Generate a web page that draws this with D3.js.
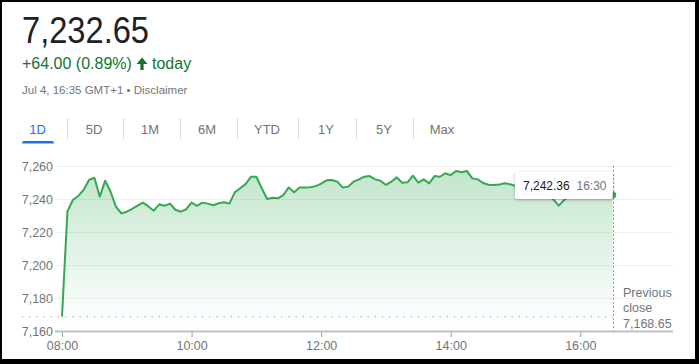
<!DOCTYPE html>
<html>
<head>
<meta charset="utf-8">
<script src="https://cdn.jsdelivr.net/npm/d3@7"></script>
<style>
  body { margin: 0; background: #000; }
  svg { display: block; font-family: Arial, "Liberation Sans", sans-serif; }
</style>
</head>
<body>
<div class="chart"></div>
<script>
var svgWidth = 699;
var svgHeight = 364;

// index price, one point every 5 minutes from 08:00 to 16:30
var startTime = "08:00";
var stepMinutes = 5;
var prices = [
  7168.7, 7232.3, 7239.4, 7241.8, 7245.5, 7251.5, 7252.9, 7241.4, 7251.1, 7244.4,
  7235.3, 7231.3, 7232.3, 7234.0, 7236.0, 7237.8, 7235.5, 7232.9, 7236.8, 7235.9,
  7237.2, 7233.5, 7232.3, 7233.8, 7237.8, 7235.8, 7237.8, 7237.2, 7236.2, 7237.4,
  7238.0, 7237.2, 7244.0, 7246.5, 7249.0, 7253.5, 7253.5, 7246.5, 7240.0, 7240.8,
  7240.4, 7242.4, 7247.0, 7244.1, 7247.0, 7246.9, 7247.1, 7247.8, 7249.3, 7251.3,
  7251.5, 7250.5, 7246.9, 7247.5, 7250.5, 7251.9, 7253.5, 7253.9, 7251.9, 7251.1,
  7248.5, 7250.5, 7253.1, 7249.9, 7250.1, 7254.1, 7249.9, 7251.9, 7249.5, 7253.9,
  7253.5, 7255.6, 7254.5, 7257.0, 7256.2, 7257.0, 7252.5, 7251.9, 7249.7, 7248.6,
  7248.5, 7248.8, 7249.5, 7248.9, 7247.9, 7247.0, 7246.5, 7245.5, 7244.6, 7243.5,
  7242.0, 7239.8, 7236.0, 7239.4, 7241.5, 7242.8, 7243.5, 7242.9, 7243.8, 7244.2,
  7243.1, 7242.6, 7242.36
];
var previousClose = 7168.65;
var lastPrice = "7,242.36";
var lastTime = "16:30";

var headline = "7,232.65";
var change = "+64.00 (0.89%)";
var changeLabel = "today";
var stamp = "Jul 4, 16:35 GMT+1 \u2022 Disclaimer";

var tabs = ["1D", "5D", "1M", "6M", "YTD", "1Y", "5Y", "Max"];
var yTicks = [7160, 7180, 7200, 7220, 7240, 7260];
var xTicks = ["08:00", "10:00", "12:00", "14:00", "16:00"];

// layout of the range tabs
var tabCenters = [37.5, 94, 150, 207, 267, 326, 384, 442];
var tabDividers = [67, 123, 180, 237, 298, 356, 413];

var green = "#34a853";
var grey = "#70757a";

var parseTime = d3.timeParse("%H:%M");
var t0 = parseTime(startTime);
var data = prices.map(function(p, i) {
  return { time: d3.timeMinute.offset(t0, i * stepMinutes), price: p };
});

var svg = d3.select(".chart")
  .append("svg")
  .attr("width", svgWidth)
  .attr("height", svgHeight);

// black frame round the card
svg.append("rect").attr("width", svgWidth).attr("height", svgHeight).attr("fill", "#000");
svg.append("rect").attr("x", 2).attr("y", 2).attr("width", 693).attr("height", 357).attr("fill", "#fff");

var defs = svg.append("defs");
var grad = defs.append("linearGradient")
  .attr("id", "fillGrad")
  .attr("gradientUnits", "userSpaceOnUse")
  .attr("x1", 0).attr("x2", 0).attr("y1", 168).attr("y2", 325);
grad.append("stop").attr("offset", 0).attr("stop-color", green).attr("stop-opacity", 0.3);
grad.append("stop").attr("offset", 1).attr("stop-color", green).attr("stop-opacity", 0);

var shadow = defs.append("filter").attr("id", "shadow")
  .attr("x", "-20%").attr("y", "-40%").attr("width", "140%").attr("height", "180%");
shadow.append("feDropShadow")
  .attr("dx", 0).attr("dy", 1).attr("stdDeviation", 1.5)
  .attr("flood-color", "#000").attr("flood-opacity", 0.3);

// header
svg.append("text")
  .attr("x", 22).attr("y", 42.5)
  .attr("font-size", 36)
  .attr("textLength", 127).attr("lengthAdjust", "spacingAndGlyphs")
  .attr("fill", "#202124")
  .text(headline);

svg.append("text")
  .attr("x", 22).attr("y", 69)
  .attr("font-size", 16)
  .attr("fill", "#137333")
  .text(change);

// solid up arrow
svg.append("path")
  .attr("d", "M142 57.5 L147.5 64 L143.6 64 L143.6 70 L140.4 70 L140.4 64 L136.5 64 Z")
  .attr("fill", "#137333");

svg.append("text")
  .attr("x", 152).attr("y", 69)
  .attr("font-size", 16)
  .attr("fill", "#137333")
  .text(changeLabel);

svg.append("text")
  .attr("x", 22).attr("y", 94)
  .attr("font-size", 11.5)
  .attr("fill", grey)
  .text(stamp);

// range tabs
svg.selectAll(".tab")
  .data(tabs)
  .enter().append("text")
    .attr("class", "tab")
    .attr("x", function(d, i) { return tabCenters[i]; })
    .attr("y", 134)
    .attr("text-anchor", "middle")
    .attr("font-size", 13)
    .attr("fill", function(d, i) { return i === 0 ? "#1a73e8" : grey; })
    .text(function(d) { return d; });

svg.selectAll(".divider")
  .data(tabDividers)
  .enter().append("line")
    .attr("class", "divider")
    .attr("x1", function(d) { return d + 0.5; })
    .attr("x2", function(d) { return d + 0.5; })
    .attr("y1", 118).attr("y2", 139)
    .attr("stroke", "#dadce0");

svg.append("rect")
  .attr("x", 22).attr("y", 141)
  .attr("width", 32).attr("height", 4)
  .attr("rx", 2)
  .attr("fill", "#1a73e8");
svg.append("rect")
  .attr("x", 22).attr("y", 143.5)
  .attr("width", 32).attr("height", 1.5)
  .attr("fill", "#fff");

// scales
var xScale = d3.scaleTime()
  .domain([parseTime("08:00"), parseTime("16:00")])
  .range([62, 580.3]);

var yScale = d3.scaleLinear()
  .domain([7160, 7260])
  .range([331, 166]);

var chart = svg.append("g");

// gridlines
chart.selectAll(".grid")
  .data(yTicks.slice(1))
  .enter().append("line")
    .attr("class", "grid")
    .attr("x1", 55).attr("x2", 673)
    .attr("y1", function(d) { return Math.round(yScale(d)) + 0.5; })
    .attr("y2", function(d) { return Math.round(yScale(d)) + 0.5; })
    .attr("stroke", "#efefef");

var leftAxis = d3.axisLeft(yScale)
  .tickValues(yTicks)
  .tickSize(0)
  .tickPadding(0)
  .tickFormat(d3.format(","));

var yAxisG = chart.append("g")
  .attr("transform", "translate(53,0)")
  .call(leftAxis);
yAxisG.select(".domain").remove();
yAxisG.selectAll("text")
  .attr("font-size", 12.5)
  .attr("font-family", "Arial, 'Liberation Sans', sans-serif")
  .attr("fill", grey);

// previous close dotted line
chart.append("line")
  .attr("x1", 22).attr("x2", 613)
  .attr("y1", yScale(previousClose)).attr("y2", yScale(previousClose))
  .attr("stroke", "#80868b")
  .attr("stroke-width", 1)
  .attr("stroke-dasharray", "1,6.2");

// area + line
var area = d3.area()
  .x(function(d) { return xScale(d.time); })
  .y0(331)
  .y1(function(d) { return yScale(d.price); });

var line = d3.line()
  .x(function(d) { return xScale(d.time); })
  .y(function(d) { return yScale(d.price); });

chart.append("path")
  .datum(data)
  .attr("d", area)
  .attr("fill", "url(#fillGrad)");

chart.append("path")
  .datum(data)
  .attr("d", line)
  .attr("fill", "none")
  .attr("stroke", green)
  .attr("stroke-width", 2)
  .attr("stroke-linejoin", "round");

// x axis
var bottomAxis = d3.axisBottom(xScale)
  .tickValues(xTicks.map(parseTime))
  .tickSize(6)
  .tickPadding(4)
  .tickFormat(d3.timeFormat("%H:%M"));

var xAxisG = chart.append("g")
  .attr("transform", "translate(0,331)")
  .call(bottomAxis);
xAxisG.select(".domain").remove();
xAxisG.selectAll("line").attr("stroke", "#9aa0a6");
xAxisG.selectAll("text")
  .attr("font-size", 12.5)
  .attr("font-family", "Arial, 'Liberation Sans', sans-serif")
  .attr("fill", grey);

chart.append("line")
  .attr("x1", 55).attr("x2", 673)
  .attr("y1", 331.5).attr("y2", 331.5)
  .attr("stroke", "#bdc1c6")
  .attr("stroke-width", 2);

// last point marker
var last = data[data.length - 1];
var lastX = xScale(last.time);

chart.append("line")
  .attr("x1", Math.round(lastX) + 0.5).attr("x2", Math.round(lastX) + 0.5)
  .attr("y1", 166).attr("y2", 331)
  .attr("stroke", "#9aa0a6")
  .attr("stroke-dasharray", "2,2");

chart.append("circle")
  .attr("cx", lastX)
  .attr("cy", yScale(last.price))
  .attr("r", 3.5)
  .attr("fill", green);

// tooltip
var tip = chart.append("g");
tip.append("rect")
  .attr("x", 515).attr("y", 172)
  .attr("width", lastX - 515).attr("height", 27)
  .attr("rx", 2)
  .attr("fill", "#fff")
  .attr("filter", "url(#shadow)");
tip.append("text")
  .attr("x", 523).attr("y", 189.5)
  .attr("font-size", 12)
  .attr("fill", "#202124")
  .text(lastPrice);
tip.append("text")
  .attr("x", 576.5).attr("y", 189.5)
  .attr("font-size", 12)
  .attr("fill", grey)
  .text(lastTime);

// previous close label
var pc = chart.append("text")
  .attr("x", 623)
  .attr("font-size", 12.5)
  .attr("fill", grey);
pc.append("tspan").attr("x", 623).attr("y", 297).text("Previous");
pc.append("tspan").attr("x", 623).attr("y", 312).text("close");
pc.append("tspan").attr("x", 623).attr("y", 327.5).text(d3.format(",.2f")(previousClose));
</script>
</body>
</html>
